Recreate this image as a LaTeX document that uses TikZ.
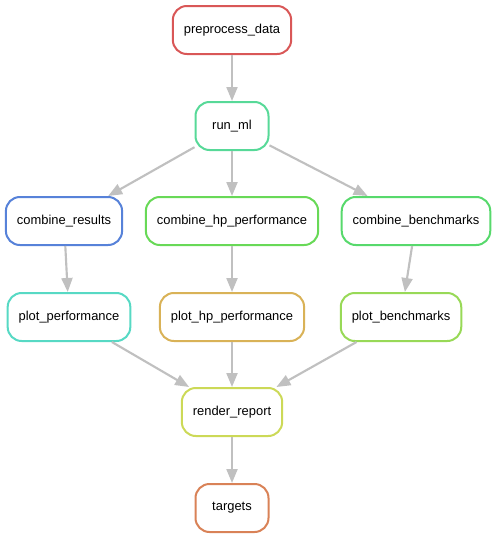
\documentclass[tikz,border=0pt]{standalone}
\usepackage{fontspec}
\setmainfont{Liberation Sans}
\usepackage{xcolor}
\usepackage{tikz}
\usetikzlibrary{arrows.meta}

\definecolor{cpre}{RGB}{217,87,87}
\definecolor{cml}{RGB}{87,217,152}
\definecolor{cres}{RGB}{87,130,217}
\definecolor{chp}{RGB}{104,217,87}
\definecolor{cbench}{RGB}{87,217,108}
\definecolor{cplotp}{RGB}{87,217,196}
\definecolor{cploth}{RGB}{217,178,87}
\definecolor{cplotb}{RGB}{152,217,87}
\definecolor{crep}{RGB}{204,217,87}
\definecolor{ctarg}{RGB}{217,130,87}
\definecolor{cedge}{RGB}{192,192,192}

\begin{document}
\begin{tikzpicture}[x=0.75pt,y=-0.75pt]
	\tikzstyle{rule}=[draw,rounded corners=10.5pt,line width=1.5pt,fill=white,
		minimum height=36pt,minimum width=54.75pt,inner xsep=8.25pt,
		font=\fontsize{9.7}{11}\selectfont]
	\tikzstyle{dep}=[draw=cedge,line width=1.6pt,-{Triangle[length=10.5pt,width=8.25pt]}]
	\useasboundingbox (0,0) rectangle (496,539);
	% rules
	\node [rule,draw=cpre] (pre) at (232,30) {preprocess\_data};
	\node [rule,draw=cml] (ml) at (232,126) {run\_ml};
	\node [rule,draw=cres] (cres) at (64,221) {combine\_results};
	\node [rule,draw=chp] (chp) at (232,221) {combine\_hp\_performance};
	\node [rule,draw=cbench] (cbench) at (416,221) {combine\_benchmarks};
	\node [rule,draw=cplotp] (plotp) at (69,317) {plot\_performance};
	\node [rule,draw=cploth] (ploth) at (232,317) {plot\_hp\_performance};
	\node [rule,draw=cplotb] (plotb) at (401,317) {plot\_benchmarks};
	\node [rule,draw=crep] (rep) at (232,412) {render\_report};
	\node [rule,draw=ctarg] (targ) at (232,508) {targets};
	% dependencies
	\draw [dep] (pre) -- (ml);
	\draw [dep] (ml) -- (cres);
	\draw [dep] (ml) -- (chp);
	\draw [dep] (ml) -- (cbench);
	\draw [dep] (cres) -- (plotp);
	\draw [dep] (chp) -- (ploth);
	\draw [dep] (cbench) -- (plotb);
	\draw [dep] (plotp) -- (rep);
	\draw [dep] (ploth) -- (rep);
	\draw [dep] (plotb) -- (rep);
	\draw [dep] (rep) -- (targ);
\end{tikzpicture}
\end{document}
